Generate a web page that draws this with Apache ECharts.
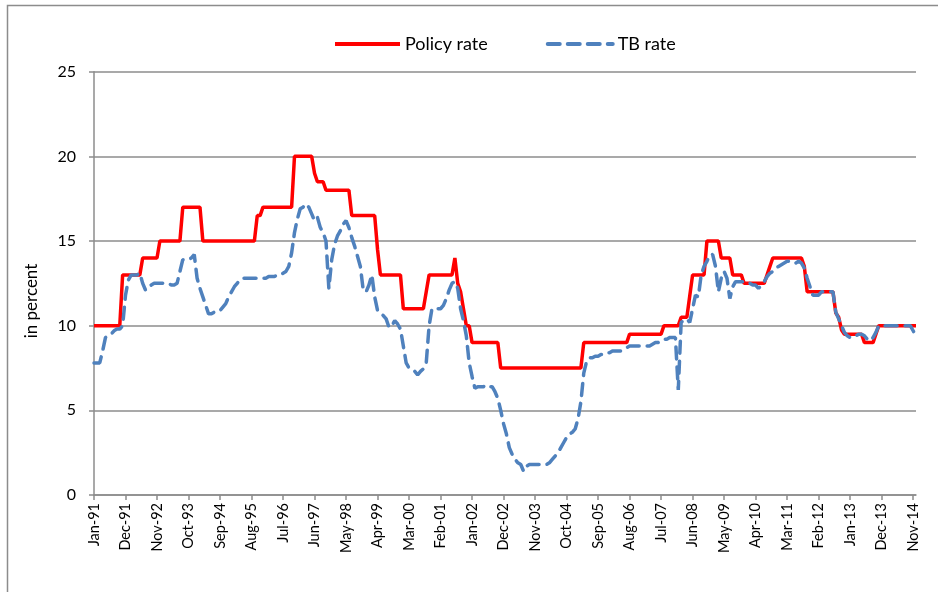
<!DOCTYPE html>
<html>
<head>
<meta charset="utf-8">
<script src="https://cdn.jsdelivr.net/npm/echarts@6/dist/echarts.min.js"></script>
<style>
    html, body { margin: 0; padding: 0; background: #fff; }
    #chart { width: 938px; height: 592px; }
</style>
</head>
<body>
<div id="chart"></div>
<script>
    // month labels are built from these two lists (Jan-91 .. Dec-14)
    var monthNames = ['Jan', 'Feb', 'Mar', 'Apr', 'May', 'Jun', 'Jul', 'Aug', 'Sep', 'Oct', 'Nov', 'Dec']
    var years = ['91', '92', '93', '94', '95', '96', '97', '98', '99', '00', '01', '02',
                 '03', '04', '05', '06', '07', '08', '09', '10', '11', '12', '13', '14']
    var yTicks = [0, 5, 10, 15, 20, 25]

    // one row per year, Jan..Dec
    var policyRate = [
        10, 10, 10, 10, 10, 10, 10, 10, 10, 10, 13, 13,
        13, 13, 13, 13, 13, 14, 14, 14, 14, 14, 14, 15,
        15, 15, 15, 15, 15, 15, 15, 17, 17, 17, 17, 17,
        17, 17, 15, 15, 15, 15, 15, 15, 15, 15, 15, 15,
        15, 15, 15, 15, 15, 15, 15, 15, 15, 16.5, 16.5, 17,
        17, 17, 17, 17, 17, 17, 17, 17, 17, 17, 20, 20,
        20, 20, 20, 20, 20, 19, 18.5, 18.5, 18.5, 18, 18, 18,
        18, 18, 18, 18, 18, 18, 16.5, 16.5, 16.5, 16.5, 16.5, 16.5,
        16.5, 16.5, 16.5, 14.5, 13, 13, 13, 13, 13, 13, 13, 13,
        11, 11, 11, 11, 11, 11, 11, 11, 12, 13, 13, 13,
        13, 13, 13, 13, 13, 13, 14, 12.5, 12, 11, 10, 10,
        9, 9, 9, 9, 9, 9, 9, 9, 9, 9, 7.5, 7.5,
        7.5, 7.5, 7.5, 7.5, 7.5, 7.5, 7.5, 7.5, 7.5, 7.5, 7.5, 7.5,
        7.5, 7.5, 7.5, 7.5, 7.5, 7.5, 7.5, 7.5, 7.5, 7.5, 7.5, 7.5,
        7.5, 7.5, 7.5, 9, 9, 9, 9, 9, 9, 9, 9, 9,
        9, 9, 9, 9, 9, 9, 9, 9.5, 9.5, 9.5, 9.5, 9.5,
        9.5, 9.5, 9.5, 9.5, 9.5, 9.5, 9.5, 10, 10, 10, 10, 10,
        10, 10.5, 10.5, 10.5, 11.75, 13, 13, 13, 13, 13, 15, 15,
        15, 15, 15, 14, 14, 14, 14, 13, 13, 13, 13, 12.5,
        12.5, 12.5, 12.5, 12.5, 12.5, 12.5, 12.5, 13, 13.5, 14, 14, 14,
        14, 14, 14, 14, 14, 14, 14, 14, 13.5, 12, 12, 12,
        12, 12, 12, 12, 12, 12, 12, 10.75, 10.5, 9.75, 9.5, 9.5,
        9.5, 9.5, 9.5, 9.5, 9.5, 9, 9, 9, 9, 9.5, 10, 10,
        10, 10, 10, 10, 10, 10, 10, 10, 10, 10, 10, 10
    ]
    var tbRate = [
        7.8, 7.8, 7.8, 8.5, 9.3, 9.4, 9.5, 9.7, 9.8, 9.8, 10, 11.8,
        12.7, 13, 13, 13, 13.1, 12.5, 12.1, 12.3, 12.4, 12.5, 12.5, 12.5,
        12.5, 12.5, 12.5, 12.4, 12.4, 12.5, 13.2, 13.9, 13.9, 13.9, 14, 14.2,
        12.8, 12.2, 11.7, 11.2, 10.7, 10.7, 10.8, 10.8, 10.9, 11.1, 11.3, 11.7,
        12, 12.3, 12.5, 12.7, 12.8, 12.8, 12.8, 12.8, 12.8, 12.8, 12.8, 12.8,
        12.8, 12.9, 12.9, 12.9, 13, 13, 13.1, 13.2, 13.5, 14.3, 15.5, 16.3,
        16.9, 17, 17.2, 17, 16.6, 16.2, 16.4, 15.8, 15.5, 15, 12.2, 13.9,
        14.8, 15.3, 15.6, 16, 16.2, 15.8, 15.2, 14.7, 14.1, 13.5, 12.1, 12,
        12.4, 13, 11.7, 10.9, 10.7, 10.6, 10.4, 9.9, 10, 10.3, 10.1, 9.8,
        8.8, 7.8, 7.5, 7.4, 7.3, 7.1, 7.3, 7.45, 7.8, 10, 11, 11,
        11, 11, 11.2, 11.6, 12.1, 12.5, 12.6, 12.2, 11, 10.3, 9.4, 7.8,
        7, 6.3, 6.4, 6.4, 6.4, 6.5, 6.4, 6.4, 6.1, 5.7, 5, 4.2,
        3.6, 2.8, 2.4, 2.1, 1.9, 1.8, 1.4, 1.7, 1.8, 1.8, 1.8, 1.8,
        1.8, 1.8, 1.8, 1.9, 2.1, 2.3, 2.5, 2.8, 3.1, 3.4, 3.6, 3.7,
        3.9, 4.5, 5.5, 7.2, 7.9, 8.1, 8.1, 8.2, 8.2, 8.3, 8.3, 8.4,
        8.4, 8.5, 8.5, 8.5, 8.5, 8.6, 8.7, 8.8, 8.8, 8.8, 8.8, 8.8,
        8.8, 8.8, 8.8, 8.9, 9, 9, 9.1, 9.2, 9.2, 9.3, 9.3, 9.3,
        6.2, 10.2, 10.3, 10.4, 10.2, 11, 11.8, 11.7, 13, 13.5, 13.8, 14.2,
        14.2, 13.5, 12, 12.8, 13.2, 12.8, 11.6, 12.3, 12.6, 12.6, 12.6, 12.6,
        12.5, 12.5, 12.4, 12.4, 12.2, 12.4, 12.6, 12.9, 13.1, 13.2, 13.4, 13.5,
        13.6, 13.7, 13.8, 13.8, 13.8, 13.7, 13.8, 13.7, 13.4, 12.8, 12.3, 11.8,
        11.8, 11.8, 12, 12, 12, 12, 12, 10.8, 10.4, 10, 9.6, 9.4,
        9.3, 9.3, 9.4, 9.5, 9.5, 9.4, 9.2, 9.1, 9.3, 9.6, 10, 10,
        10, 10, 10, 10, 10, 10, 10, 10, 10, 10, 9.7, 9.4
    ]

    var categories = []
    years.forEach(function (yr) {
        monthNames.forEach(function (m) { categories.push(m + '-' + yr) })
    })

    var gray = '#8c8c8c'
    var font = 'Lato'

    var chart = echarts.init(document.getElementById('chart'))
    chart.setOption({
        animation: false,
        textStyle: {fontFamily: font, color: '#000'},
        graphic: [
            {type: 'rect', shape: {x: 7.5, y: 5.5, width: 1000, height: 1000},
                style: {fill: 'none', stroke: gray, lineWidth: 1.5}, silent: true},
            {type: 'text', x: 32, y: 301, rotation: Math.PI / 2,
                style: {text: 'in percent', fontFamily: font, fontSize: 17, fill: '#000',
                    align: 'center', verticalAlign: 'middle'}}
        ],
        legend: {
            left: 328, top: 30,
            itemWidth: 65, itemHeight: 14, itemGap: 58,
            itemStyle: {opacity: 0},
            lineStyle: {width: 4},
            textStyle: {fontFamily: font, fontSize: 18, color: '#000'},
            data: ['Policy rate', 'TB rate']
        },
        grid: {left: 94, top: 71.7, right: 22, bottom: 97, containLabel: false},
        xAxis: {
            type: 'category',
            boundaryGap: false,
            data: categories,
            axisLine: {lineStyle: {color: gray, width: 1.5}},
            axisTick: {interval: 10, length: 5, lineStyle: {color: gray, width: 1.5}},
            axisLabel: {interval: 10, rotate: 90, margin: 8, fontSize: 14.5, color: '#000', fontFamily: font},
            splitLine: {show: false}
        },
        yAxis: {
            type: 'value',
            min: yTicks[0], max: yTicks[yTicks.length - 1], interval: 5,
            axisLine: {show: true, lineStyle: {color: gray, width: 1.5}},
            axisTick: {show: true, length: 5, lineStyle: {color: gray, width: 1.5}},
            axisLabel: {margin: 18, fontSize: 16, color: '#000', fontFamily: font},
            splitLine: {lineStyle: {color: gray, width: 1.5}}
        },
        series: [
            {
                name: 'Policy rate',
                type: 'line',
                data: policyRate,
                symbol: 'none',
                lineStyle: {color: '#ff0000', width: 3.5},
                itemStyle: {color: '#ff0000'}
            },
            {
                name: 'TB rate',
                type: 'line',
                data: tbRate,
                symbol: 'none',
                lineStyle: {color: '#4f81bd', width: 3.5, type: [12, 8], cap: 'round'},
                itemStyle: {color: '#4f81bd'}
            }
        ]
    })
</script>
</body>
</html>
